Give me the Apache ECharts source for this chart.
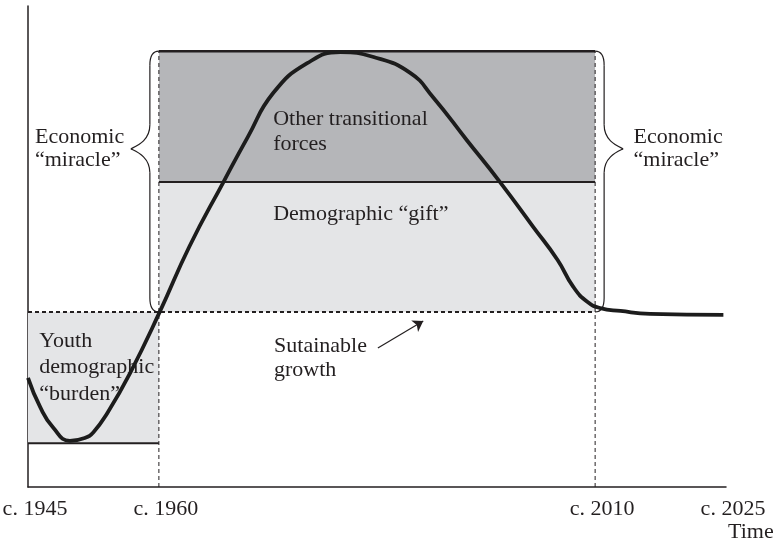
<!DOCTYPE html>
<html>
<head>
<meta charset="utf-8">
<script src="https://cdn.jsdelivr.net/npm/echarts@6/dist/echarts.min.js"></script>
<style>
    html, body { margin: 0; padding: 0; background: #fff; }
    #chart { width: 774px; height: 547px; }
</style>
</head>
<body>
<div id="chart"></div>
<script>
// 横轴年份与刻度文字
const tickYears = [1945, 1960, 2010, 2025];
const tickLabels = ['c. 1945', 'c. 1960', 'c. 2010', 'c. 2025'];

// 纵向分层: 负担底线, 可持续增长, 人口红利上沿, 奇迹上沿
const bandLevels = [9.1, 36.4, 63.4, 90.6];

// 括号尖端所在高度
const braceTipLevel = 70.3;

// 增长曲线
const curveYears = [1945, 1946.4, 1947.9, 1949.8, 1951.5, 1952.5, 1954.1, 1956.7, 1960.1,
    1963.5, 1967.4, 1970.2, 1973.1, 1977.0, 1980.8, 1984.6, 1988.8,
    1991.4, 1995.3, 1999.1, 2002.9, 2005.7, 2007.5, 2009.1, 2010.6, 2012.9, 2016.3, 2024.7];
const curveValues = [22.7, 16.6, 12.3, 9.6, 10.2, 11.4, 15.4, 23.7, 36.4,
    50.0, 63.4, 72.8, 81.9, 88.1, 90.4, 89.4, 86.1,
    81.1, 72.1, 63.4, 54.1, 47.2, 41.6, 38.5, 37.2, 36.6, 36.0, 35.8];

// 注释文字
const noteTexts = ['Economic\n\u201cmiracle\u201d', 'Economic\n\u201cmiracle\u201d', 'Other transitional\nforces',
    'Demographic \u201cgift\u201d', 'Youth\ndemographic\n\u201cburden\u201d', 'Sutainable\ngrowth'];
const noteYears = [1945.8, 2014.4, 1973.1, 1973.1, 1946.3, 1973.2];
const noteValues = [70.3, 70.3, 73.9, 56.8, 24.9, 26.8];
const noteLineHeights = [23, 23, 25, 24, 26.5, 24];

// 箭头
const arrowFrom = [1985.1, 28.9];
const arrowTo = [1990.3, 34.5];

const INK = '#231f20';
const FONT = '"Liberation Serif", "Times New Roman", serif';

const [yFloor, ySustain, yGift, yTop] = bandLevels;
const [x1945, x1960, x2010, x2025] = tickYears;

// 灰色区块
const boxes = [
    [x1945, x1960, yFloor, ySustain],
    [x1960, x2010, ySustain, yGift],
    [x1960, x2010, yGift, yTop]
];
const boxFills = ['#e4e5e7', '#e4e5e7', '#b5b6b9'];

function segment(data, width, type, z) {
    return {
        type: 'line',
        data: data,
        showSymbol: false,
        silent: true,
        z: z,
        lineStyle: { color: INK, width: width, type: type }
    };
}

const chart = echarts.init(document.getElementById('chart'));

const option = {
    animation: false,
    grid: { left: 28, right: 48, top: 6, bottom: 60, containLabel: false, outerBoundsMode: 'none' },
    xAxis: {
        type: 'value',
        min: x1945,
        max: x2025,
        interval: 5,
        name: 'Time',
        nameLocation: 'end',
        nameGap: 2,
        nameTextStyle: {
            color: INK, fontFamily: FONT, fontSize: 22,
            align: 'left', verticalAlign: 'top', padding: [34, 0, 0, 0]
        },
        axisLine: { lineStyle: { color: INK, width: 1.5 } },
        axisTick: { show: false },
        splitLine: { show: false },
        axisLabel: {
            color: INK, fontFamily: FONT, fontSize: 22, margin: 11,
            padding: [0, 0, 0, 14],
            showMinLabel: true, showMaxLabel: true,
            formatter: function (v) {
                const i = tickYears.indexOf(v);
                return i >= 0 ? tickLabels[i] : '';
            }
        }
    },
    yAxis: {
        type: 'value',
        min: 0,
        max: 100,
        axisLine: { show: true, lineStyle: { color: INK, width: 1.5 } },
        axisTick: { show: false },
        axisLabel: { show: false },
        splitLine: { show: false }
    },
    series: [
        // 区块
        {
            type: 'custom',
            silent: true,
            z: 1,
            data: boxes,
            renderItem: function (params, api) {
                const p0 = api.coord([api.value(0), api.value(3)]);
                const p1 = api.coord([api.value(1), api.value(2)]);
                return {
                    type: 'rect',
                    shape: { x: p0[0], y: p0[1], width: p1[0] - p0[0], height: p1[1] - p0[1] },
                    style: { fill: boxFills[params.dataIndex] }
                };
            }
        },
        // 实线
        segment([[x1960, yTop], [x2010, yTop]], 2.5, 'solid', 3),
        segment([[x1960, yGift], [x2010, yGift]], 2, 'solid', 3),
        segment([[x1945, yFloor], [x1960, yFloor]], 2, 'solid', 3),
        // 虚线
        segment([[x1945, ySustain], [x2010, ySustain]], 2, [4, 3], 3),
        segment([[x1960, 0], [x1960, yTop]], 1, [4, 3], 3),
        segment([[x2010, 0], [x2010, yTop]], 1, [4, 3], 3),
        // 大括号
        {
            type: 'custom',
            silent: true,
            z: 4,
            data: [[x1960, ySustain, yTop, braceTipLevel, -1], [x2010, ySustain, yTop, braceTipLevel, 1]],
            renderItem: function (params, api) {
                const top = api.coord([api.value(0), api.value(2)]);
                const x0 = top[0], y0 = top[1];
                const yb = api.coord([api.value(0), api.value(1)])[1];
                const yt = api.coord([api.value(0), api.value(3)])[1];
                const d = api.value(4);
                const xb = x0 + d * 9, xt = x0 + d * 28;
                const st = { stroke: INK, lineWidth: 1.2, fill: null };
                return {
                    type: 'group',
                    children: [
                        { type: 'bezierCurve', shape: { x1: x0, y1: y0, cpx1: xb, cpy1: y0, x2: xb, y2: y0 + 14 }, style: st },
                        { type: 'line', shape: { x1: xb, y1: y0 + 14, x2: xb, y2: yt - 24 }, style: st },
                        { type: 'bezierCurve', shape: { x1: xb, y1: yt - 24, cpx1: xb, cpy1: yt - 8, cpx2: xt - d * 6, cpy2: yt - 3, x2: xt, y2: yt }, style: st },
                        { type: 'bezierCurve', shape: { x1: xt, y1: yt, cpx1: xt - d * 6, cpy1: yt + 3, cpx2: xb, cpy2: yt + 8, x2: xb, y2: yt + 24 }, style: st },
                        { type: 'line', shape: { x1: xb, y1: yt + 24, x2: xb, y2: yb - 14 }, style: st },
                        { type: 'bezierCurve', shape: { x1: xb, y1: yb - 14, cpx1: xb, cpy1: yb, x2: x0, y2: yb }, style: st }
                    ]
                };
            }
        },
        // 增长曲线
        {
            type: 'line',
            data: curveYears.map((y, i) => [y, curveValues[i]]),
            smooth: 0.5,
            showSymbol: false,
            silent: true,
            z: 6,
            lineStyle: { color: '#1c1c1c', width: 3.8 }
        },
        // 注释
        {
            type: 'custom',
            silent: true,
            z: 5,
            data: noteYears.map((y, i) => [y, noteValues[i]]),
            renderItem: function (params, api) {
                const p = api.coord([api.value(0), api.value(1)]);
                return {
                    type: 'text',
                    x: p[0],
                    y: p[1],
                    style: {
                        text: noteTexts[params.dataIndex],
                        fill: INK,
                        font: '22px ' + FONT,
                        align: 'left',
                        verticalAlign: 'middle',
                        lineHeight: noteLineHeights[params.dataIndex]
                    }
                };
            }
        },
        // 箭头
        {
            type: 'lines',
            coordinateSystem: 'cartesian2d',
            silent: true,
            z: 5,
            symbol: ['none', 'arrow'],
            symbolSize: 10,
            lineStyle: { color: INK, width: 1.2, opacity: 1 },
            data: [{ coords: [arrowFrom, arrowTo] }]
        }
    ]
};

chart.setOption(option);
</script>
</body>
</html>
